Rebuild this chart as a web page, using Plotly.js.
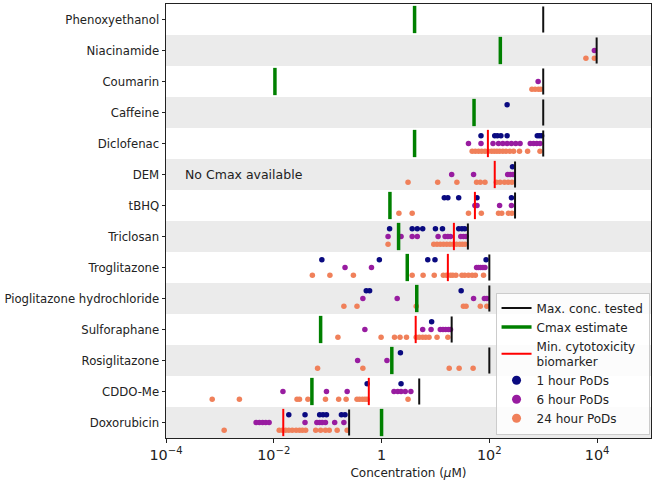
<!DOCTYPE html>
<html>
<head>
<meta charset="utf-8">
<script src="https://cdn.plot.ly/plotly-3.0.1.min.js"></script>
<style>html,body{margin:0;padding:0;background:#fff;}#chart{width:655px;height:483px;}</style>
</head>
<body>
<div id="chart"></div>
<script>
const compounds = ["Phenoxyethanol","Niacinamide","Coumarin","Caffeine","Diclofenac","DEM","tBHQ","Triclosan","Troglitazone","Pioglitazone hydrochloride","Sulforaphane","Rosiglitazone","CDDO-Me","Doxorubicin"];
const maxConc = [1000, 9800, 1000, 1000, 1000, 300, 300, 40, 100, 100, 20, 100, 5.0, 0.25];
const cmaxEstimate = [4.1, 160, 0.0105, 52, 4.1, null, 1.43, 2.07, 3.0, 4.5, 0.074, 1.55, 0.051, 1.0];
const minCytotox = [null, null, null, null, 94, 126, 54, 22, 17, null, 4.3, null, 0.58, 0.015];
const pod1h = [
  [], [], [], [214],
  [70, 126, 141, 164, 214, 776, 851, 933],
  [269],
  [14.6, 17, 27, 59, 257],
  [1.41, 3.7, 4.6, 5.8, 10, 13.5, 27, 31, 35],
  [0.078, 0.91, 7.2, 9.8, 87],
  [0.52, 0.60, 30],
  [8.5],
  [2.24],
  [0.54, 2.3],
  [0.019, 0.038, 0.071, 0.082, 0.095, 0.18, 0.21]
];
const pod6h = [
  [], [8900], [804], [],
  [41, 70, 117, 148, 178, 214, 257, 309, 372, 575, 661, 759, 871],
  [20, 51, 219, 245, 275],
  [54, 59, 155, 257],
  [1.32, 2.3, 3.7, 4.6, 11.2, 15.1, 17, 19, 29.5, 33, 37],
  [0.21, 0.65, 58, 63, 69, 76, 83],
  [0.45, 1.95, 51, 81, 90],
  [0.49, 5.8, 8.3, 12.3, 13.8, 15.5, 17.4, 19],
  [0.36, 1.26],
  [0.0148, 0.095, 0.23, 1.7, 2.0, 2.3, 2.75, 3.5],
  [0.0047, 0.0054, 0.0062, 0.0071, 0.0082, 0.038, 0.063, 0.071, 0.079, 0.091, 0.135, 0.20]
];
const pod24h = [
  [], [6200, 8900], [617, 708, 813, 902], [],
  [48, 55, 63, 72, 83, 95, 110, 123, 138, 155, 178, 204, 240, 282, 363, 513, 871],
  [3.1, 11, 25, 58, 68, 83, 135, 158, 191, 224, 263],
  [2.1, 3.7, 41, 71, 148, 170, 226, 263],
  [1.32, 9.3, 10.7, 12.3, 14.1, 16.2, 18.6, 21.4, 24.5, 28.2, 31.6, 35.5],
  [0.052, 0.11, 0.30, 3.7, 5.9, 9.5, 14, 16, 19, 21, 24, 31, 35, 41, 48, 55, 78],
  [0.20, 0.35, 4.4, 33, 37, 68, 90],
  [0.155, 0.98, 1.74, 2.2, 2.9, 4.4, 5.0, 5.8, 6.6, 7.6, 10.7, 17],
  [0.065, 0.45, 18, 27.5, 50],
  [0.00072, 0.0023, 0.027, 0.030, 0.043, 0.091, 0.16, 0.22, 0.35, 0.39, 0.44, 0.49, 0.54, 3.1],
  [0.0012, 0.0126, 0.0145, 0.0166, 0.019, 0.022, 0.026, 0.030, 0.034, 0.039, 0.060, 0.074, 0.091, 0.107, 0.15, 0.23]
];

function segs(vals, half) {
  const x = [], y = [];
  vals.forEach((v, i) => { if (v == null) return; x.push(v, v, null); y.push(i - half, i + half, null); });
  return {x, y};
}
function pts(lists, off) {
  const x = [], y = [];
  lists.forEach((arr, i) => arr.forEach(v => { x.push(v); y.push(i + off); }));
  return {x, y};
}
const FONT = "DejaVu Sans, Liberation Sans, sans-serif";
const p1 = pts(pod1h, -0.25), p6 = pts(pod6h, 0), p24 = pts(pod24h, 0.25);
const sMax = segs(maxConc, 0.42), sCmax = segs(cmaxEstimate, 0.44), sCyto = segs(minCytotox, 0.44);

const traces = [
  {type:'scatter', mode:'markers', x:p24.x, y:p24.y, name:'24 hour PoDs', legendrank:6, marker:{color:'#f0805a', size:5.5}, showlegend:false, hoverinfo:'x'},
  {type:'scatter', mode:'markers', x:p6.x, y:p6.y, name:'6 hour PoDs', legendrank:5, marker:{color:'#981ca0', size:5.5}, showlegend:false, hoverinfo:'x'},
  {type:'scatter', mode:'markers', x:p1.x, y:p1.y, name:'1 hour PoDs', legendrank:4, marker:{color:'#0a0a80', size:5.5}, showlegend:false, hoverinfo:'x'},
  {type:'scatter', mode:'lines', x:sCmax.x, y:sCmax.y, name:'Cmax estimate', legendrank:2, line:{color:'#008000', width:3.5}},
  {type:'scatter', mode:'lines', x:sCyto.x, y:sCyto.y, name:'Min. cytotoxicity<br>biomarker', legendrank:3, line:{color:'#ff0000', width:2}},
  {type:'scatter', mode:'lines', x:sMax.x, y:sMax.y, name:'Max. conc. tested', legendrank:1, line:{color:'#111111', width:2}},
  {type:'scatter', mode:'markers', x:[null], y:[null], name:'1 hour PoDs', legendrank:4, marker:{color:'#0a0a80', size:9}},
  {type:'scatter', mode:'markers', x:[null], y:[null], name:'6 hour PoDs', legendrank:5, marker:{color:'#981ca0', size:9}},
  {type:'scatter', mode:'markers', x:[null], y:[null], name:'24 hour PoDs', legendrank:6, marker:{color:'#f0805a', size:9}}
];

const shapes = [];
compounds.forEach((c, i) => {
  if (i % 2 === 1) shapes.push({type:'rect', xref:'paper', x0:0, x1:1, yref:'y', y0:i-0.5, y1:i+0.5, fillcolor:'#ebebeb', line:{width:0}, layer:'below'});
});

const layout = {
  width:655, height:483,
  margin:{l:166, r:4, t:4, b:45},
  paper_bgcolor:'#ffffff', plot_bgcolor:'#ffffff',
  font:{family:FONT, size:12, color:'#222'},
  showlegend:true,
  xaxis:{type:'log', range:[-4,5], dtick:2, exponentformat:'power', showgrid:false, zeroline:false,
    ticks:'outside', ticklen:4, tickcolor:'#222', showline:true, linecolor:'#222', linewidth:1, mirror:true,
    tickfont:{size:11.5, family:FONT, color:'#222'},
    title:{text:'Concentration (<i>μ</i>M)', font:{size:12, family:FONT, color:'#222'}, standoff:6}},
  yaxis:{range:[13.5,-0.5], tickvals:compounds.map((c,i)=>i), ticktext:compounds, showgrid:false, zeroline:false,
    ticks:'outside', ticklen:3.5, tickcolor:'#222', showline:true, linecolor:'#222', linewidth:1, mirror:true,
    tickfont:{size:11.7, family:FONT, color:'#222'}},
  shapes:shapes,
  annotations:[{xref:'paper', yref:'y', x:0.035, y:5, xanchor:'left', yanchor:'middle', text:'No Cmax available', showarrow:false, font:{size:12.5, family:FONT, color:'#222'}}],
  legend:{x:0.997, y:0.008, xanchor:'right', yanchor:'bottom', bgcolor:'rgba(255,255,255,0.85)', bordercolor:'#cccccc', borderwidth:1,
    font:{size:12, family:FONT, color:'#222'}, itemwidth:30, tracegroupgap:0}
};
Plotly.newPlot('chart', traces, layout, {displayModeBar:false, staticPlot:true});
</script>
</body>
</html>
